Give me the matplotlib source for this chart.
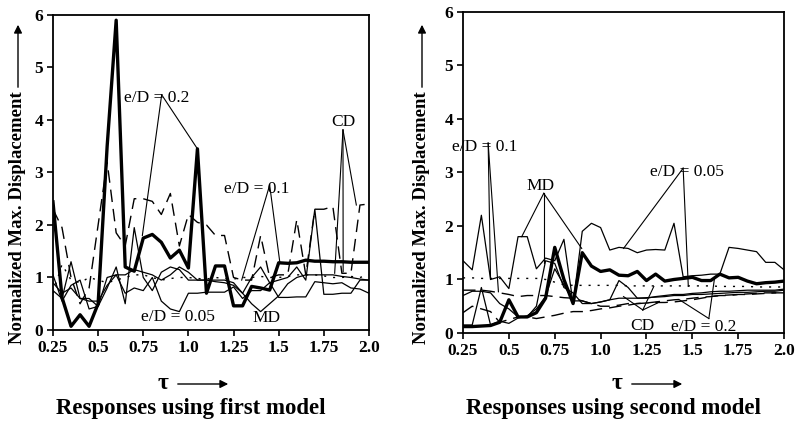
import numpy as np
import matplotlib.pyplot as plt
from matplotlib.patches import FancyArrowPatch

plt.rcParams['font.family'] = ['Liberation Serif', 'DejaVu Serif']

tau = np.round(np.arange(0.25, 2.0001, 0.05), 2)

# first model
m1_thick = [2.44, 0.62, 0.07, 0.29, 0.07, 0.5, 3.5, 5.9, 1.2, 1.12, 1.75, 1.82, 1.67, 1.37, 1.52, 1.18,
            3.45, 0.7, 1.22, 1.22, 0.46, 0.46, 0.83, 0.8, 0.76, 1.28, 1.27, 1.28, 1.33, 1.31, 1.31, 1.3,
            1.3, 1.29, 1.29, 1.29]
m1_dash = [2.3, 1.95, 1.0, 0.5, 0.8, 2.0, 3.2, 1.85, 1.6, 2.5, 2.5, 2.45, 2.2, 2.6, 1.6, 2.2,
           2.05, 2.0, 1.8, 1.8, 1.0, 0.95, 0.95, 1.8, 1.0, 1.05, 1.05, 2.1, 1.05, 2.3, 2.3, 2.35,
           1.08, 1.08, 2.38, 2.4]
m1_dot = [0.7, 1.25, 0.95, 0.9, 1.0, 0.95, 0.9, 0.95, 1.0, 1.05, 1.05, 1.0, 0.95, 0.98, 1.0, 1.0,
          0.98, 0.97, 1.0, 0.98, 0.97, 1.0, 1.0, 1.02, 1.0, 1.0, 1.02, 1.05, 1.05, 1.05, 1.03, 1.0,
          1.0, 1.02, 1.0, 1.05]
m1_thin_a = [0.75, 0.6, 1.3, 0.6, 0.6, 0.45, 0.8, 1.2, 0.5, 1.95, 1.0, 0.75, 1.1, 1.2, 1.15, 0.95,
             0.95, 0.95, 0.95, 0.95, 0.9, 0.7, 1.0, 1.2, 0.9, 0.95, 1.0, 1.2, 0.95, 2.3, 0.68, 0.68,
             0.7, 0.7, 0.95, 0.95]
m1_thin_b = [1.05, 0.55, 0.85, 0.95, 0.4, 0.45, 1.0, 1.05, 0.7, 0.8, 0.75, 1.0, 0.55, 0.4, 0.35, 0.7,
             0.7, 0.72, 0.72, 0.72, 0.82, 0.6, 0.75, 0.75, 0.9, 0.62, 0.62, 0.63, 0.63, 0.92, 0.9, 0.88,
             0.9, 0.8, 0.78, 0.7]
m1_thin_c = [0.9, 0.7, 0.8, 0.6, 0.55, 0.55, 0.85, 1.05, 1.05, 1.15, 1.1, 1.05, 0.95, 1.05, 1.2, 1.1,
             0.95, 0.95, 0.92, 0.9, 0.85, 0.7, 0.5, 0.35, 0.5, 0.65, 0.88, 1.0, 1.05, 1.05, 1.05, 1.05,
             1.02, 1.0, 0.97, 0.95]

# second model
m2_thick = [0.12, 0.12, 0.13, 0.14, 0.2, 0.62, 0.3, 0.3, 0.38, 0.65, 1.6, 1.0, 0.55, 1.5, 1.25, 1.15,
            1.18, 1.08, 1.07, 1.15, 0.98, 1.1, 0.97, 1.0, 1.02, 1.04, 0.98, 0.98, 1.1, 1.03, 1.04, 0.97,
            0.92, 0.94, 0.95, 0.97]
m2_thin_a = [1.35, 1.18, 2.2, 1.0, 1.05, 0.83, 1.8, 1.8, 1.2, 1.4, 1.35, 1.75, 0.55, 1.9, 2.05, 1.97,
             1.55, 1.6, 1.58, 1.5, 1.55, 1.56, 1.55, 2.05, 1.05, 1.07, 1.08, 1.1, 1.1, 1.6, 1.58, 1.55,
             1.52, 1.32, 1.32, 1.18]
m2_thin_b = [0.7, 0.78, 0.78, 0.75, 0.55, 0.45, 0.3, 0.3, 0.5, 1.35, 1.3, 0.85, 0.75, 0.55, 0.55, 0.58,
             0.62, 0.98, 0.85, 0.65, 0.65, 0.68, 0.7, 0.72, 0.72, 0.74, 0.75, 0.77, 0.78, 0.78, 0.79, 0.8,
             0.8, 0.8, 0.8, 0.82]
m2_thin_c = [0.15, 0.15, 0.85, 0.15, 0.22, 0.18, 0.28, 0.32, 0.45, 0.68, 1.2, 0.9, 0.6, 0.6, 0.55, 0.58,
             0.62, 0.65, 0.65, 0.65, 0.66, 0.67, 0.68, 0.7, 0.7, 0.72, 0.72, 0.73, 0.74, 0.75, 0.76, 0.76,
             0.77, 0.78, 0.78, 0.8]
m2_dot = [1.03, 1.03, 1.02, 1.02, 1.02, 1.02, 1.02, 1.02, 1.02, 1.0, 0.95, 0.9, 0.89, 0.89, 0.89, 0.89,
          0.89, 0.89, 0.88, 0.88, 0.88, 0.88, 0.88, 0.88, 0.88, 0.88, 0.88, 0.88, 0.87, 0.87, 0.87, 0.87,
          0.86, 0.86, 0.86, 0.86]
m2_dash_a = [0.8, 0.8, 0.8, 0.78, 0.75, 0.72, 0.68, 0.7, 0.7, 0.7, 0.68, 0.66, 0.65, 0.6, 0.55, 0.5,
             0.5, 0.52, 0.55, 0.55, 0.56, 0.57, 0.57, 0.58, 0.6, 0.62, 0.65, 0.68, 0.7, 0.7, 0.72, 0.72,
             0.73, 0.74, 0.75, 0.75]
m2_dash_b = [0.38, 0.5, 0.45, 0.4, 0.2, 0.25, 0.3, 0.3, 0.27, 0.3, 0.33, 0.37, 0.4, 0.4, 0.42, 0.45,
             0.47, 0.5, 0.52, 0.55, 0.56, 0.58, 0.6, 0.62, 0.63, 0.65, 0.67, 0.68, 0.7, 0.71, 0.72, 0.73,
             0.74, 0.75, 0.75, 0.76]

xticks = [0.25, 0.5, 0.75, 1.0, 1.25, 1.5, 1.75, 2.0]
xticklabels = ['0.25', '0.5', '0.75', '1.0', '1.25', '1.5', '1.75', '2.0']
captions = ['Responses using first model', 'Responses using second model']

fig = plt.figure(figsize=(7.99, 4.23), dpi=100)
ax1 = fig.add_axes([0.0663, 0.2199, 0.3955, 0.7447])
ax2 = fig.add_axes([0.5795, 0.2128, 0.4018, 0.759])

thin = dict(color='black', lw=0.9)
thick = dict(color='black', lw=2.4)
dash = dict(color='black', lw=1.0, dashes=(9, 5))
dot = dict(color='black', lw=1.0, dashes=(1.5, 5))

ax1.plot(tau, m1_dot, **dot)
ax1.plot(tau, m1_dash, **dash)
ax1.plot(tau, m1_thin_a, **thin)
ax1.plot(tau, m1_thin_b, **thin)
ax1.plot(tau, m1_thin_c, **thin)
ax1.plot(tau, m1_thick, **thick)

ax2.plot(tau, m2_dot, **dot)
ax2.plot(tau, m2_dash_a, **dash)
ax2.plot(tau, m2_dash_b, **dash)
ax2.plot(tau, m2_thin_a, **thin)
ax2.plot(tau, m2_thin_b, **thin)
ax2.plot(tau, m2_thin_c, **thin)
ax2.plot(tau, m2_thick, **thick)


def label(ax, text, apex, targets, offset=(0, 0.04)):
    for tx, ty in targets:
        ax.plot([apex[0], tx], [apex[1], ty], color='black', lw=0.8)
    ax.text(apex[0] + offset[0], apex[1] + offset[1], text, ha='center', va='bottom', fontsize=12.5)


# leaders, first model
label(ax1, 'e/D = 0.2', (0.852, 4.48), [(0.745, 1.8), (1.05, m1_thick[16])], offset=(-0.03, -0.22))
label(ax1, 'e/D = 0.1', (1.45, 2.76), [(1.295, 0.95), (1.507, 1.27)], offset=(-0.07, -0.22))
label(ax1, 'CD', (1.856, 3.81), [(1.81, 1.08), (1.857, 1.11), (1.93, 2.38)], offset=(0.0, 0.0))
ax1.text(0.94, 0.25, 'e/D = 0.05', ha='center', va='center', fontsize=12.5)
ax1.text(1.435, 0.23, 'MD', ha='center', va='center', fontsize=12.5)

# leaders, second model
label(ax2, 'e/D = 0.1', (0.387, 3.55), [(0.4, m2_thin_a[3]), (0.443, 0.77)], offset=(-0.02, -0.22))
label(ax2, 'MD', (0.69, 2.61), [(0.57, 1.8), (0.69, 1.3), (0.897, 1.58)], offset=(-0.015, -0.02))
label(ax2, 'e/D = 0.05', (1.45, 3.08), [(1.125, 1.58), (1.478, 0.87)], offset=(0.02, -0.22))
label(ax2, 'CD', (1.23, 0.43), [(1.125, 0.68), (1.29, 0.87), (1.31, 0.56)], offset=(0.0, -0.45))
label(ax2, 'e/D = 0.2', (1.59, 0.27), [(1.43, 0.62), (1.62, 1.0)], offset=(-0.03, -0.3))

for ax in (ax1, ax2):
    ax.set_xlim(0.25, 2.0)
    ax.set_ylim(0, 6)
    ax.set_xticks(xticks)
    ax.set_xticklabels(xticklabels)
    ax.set_yticks(range(7))
    ax.tick_params(direction='out', length=4, width=1.2, labelsize=12.5, pad=3)
    for lab in ax.get_xticklabels() + ax.get_yticklabels():
        lab.set_fontweight('bold')
    for s in ax.spines.values():
        s.set_linewidth(1.3)

# axis labels with arrows, captions
for lab_x, tau_x, cap_x, cap in [(18, 163, 191, captions[0]),
                                 (422, 617, 613, captions[1])]:
    fig.text(lab_x / 799, 1 - 218 / 423, 'Normalized Max. Displacement',
             rotation=90, ha='center', va='center', fontsize=13.5, fontweight='bold')
    fig.patches.append(FancyArrowPatch(
        (lab_x / 799, 1 - 90 / 423), (lab_x / 799, 1 - 22 / 423),
        transform=fig.transFigure, arrowstyle='-|>', mutation_scale=12, lw=1.0, color='black'))
    fig.text(tau_x / 799, 1 - 383 / 423, 'τ', ha='center', va='center',
             fontsize=17, fontweight='bold')
    fig.patches.append(FancyArrowPatch(
        ((tau_x + 12) / 799, 1 - 384 / 423), ((tau_x + 68) / 799, 1 - 384 / 423),
        transform=fig.transFigure, arrowstyle='-|>', mutation_scale=12, lw=1.0, color='black'))
    fig.text(cap_x / 799, 1 - 408 / 423, cap, ha='center', va='center',
             fontsize=16.5, fontweight='bold')

fig.savefig('out.png', dpi=100)
